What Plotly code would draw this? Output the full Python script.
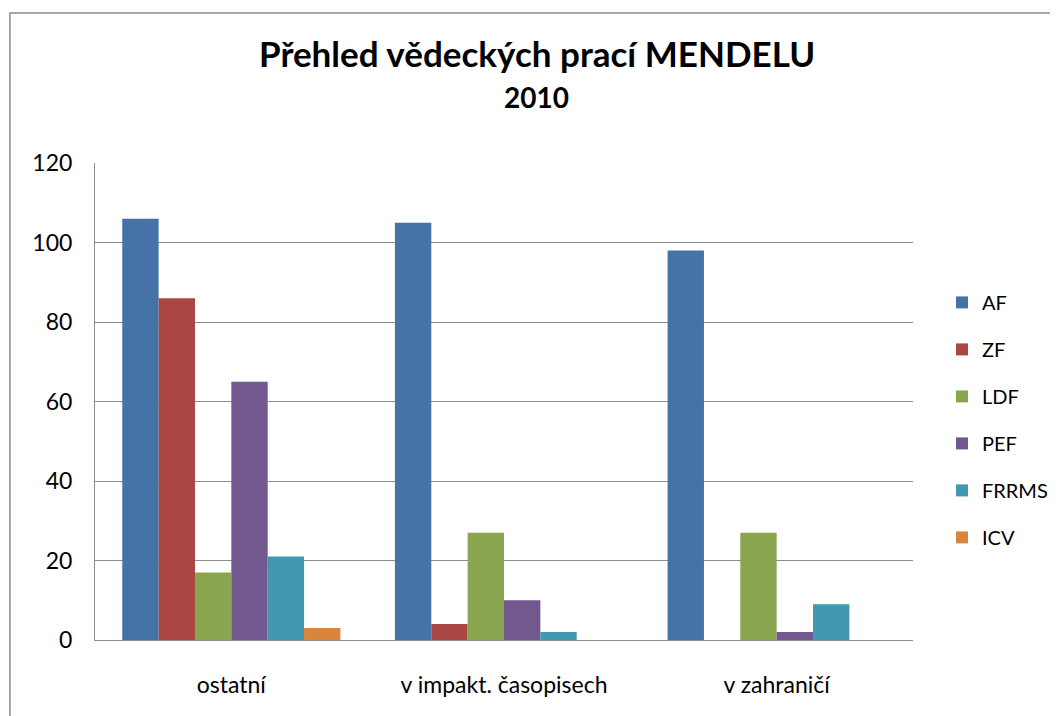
import plotly.graph_objects as go

categories = ["ostatní", "v impakt. časopisech", "v zahraničí"]
series_names = ["AF", "ZF", "LDF", "PEF", "FRRMS", "ICV"]
AF = [106, 105, 98]
ZF = [86, 4, 0]
LDF = [17, 27, 27]
PEF = [65, 10, 2]
FRRMS = [21, 2, 9]
ICV = [3, 0, 0]
y_ticks = [0, 20, 40, 60, 80, 100, 120]

colors = ["#4572A7", "#AA4643", "#89A54E", "#71588F", "#4198AF", "#DB843D"]
values = [AF, ZF, LDF, PEF, FRRMS, ICV]

FONT = "Lato, 'Open Sans', sans-serif"

fig = go.Figure()
for name, vals, col in zip(series_names, values, colors):
    fig.add_trace(go.Bar(x=categories, y=vals, name=name, marker_color=col,
                         marker_line_width=0, legendgroup=name))

fig.update_layout(
    width=1050, height=708,
    margin=dict(l=87, r=145, t=155, b=76),
    paper_bgcolor="white", plot_bgcolor="white",
    barmode="group", bargap=0.2, bargroupgap=0,
    font=dict(family=FONT, color="black"),
    showlegend=True,
    legend=dict(xref="container", yref="paper", x=0.8895, y=0.7486,
                xanchor="left", yanchor="top",
                font=dict(size=20, family=FONT), tracegroupgap=18,
                itemwidth=30, bgcolor="rgba(0,0,0,0)"),
    xaxis=dict(showline=True, linecolor="#8c8c8c", linewidth=1,
               tickfont=dict(size=23, family=FONT), ticks="", ticklabelstandoff=24),
    yaxis=dict(range=[0, 120], tickvals=y_ticks, showgrid=True, gridcolor="#8c8c8c",
               gridwidth=1, showline=True, linecolor="#8c8c8c", linewidth=1,
               zeroline=False, tickfont=dict(size=23, family=FONT), ticks="",
               ticklabelstandoff=17),
    annotations=[
        dict(text="<b>Přehled vědeckých prací MENDELU</b>", xref="paper", yref="paper",
             x=0.54, y=1.2305, xanchor="center", yanchor="middle", showarrow=False,
             font=dict(size=35, family=FONT)),
        dict(text="<b>2010</b>", xref="paper", yref="paper",
             x=0.54, y=1.1384, xanchor="center", yanchor="middle", showarrow=False,
             font=dict(size=28, family=FONT)),
    ],
    shapes=[
        dict(type="rect", xref="paper", yref="paper", x0=-0.104, x1=1.3,
             y0=-0.3, y1=1.3145, line=dict(color="#8c8c8c", width=1.5), layer="below"),
    ],
)

fig.write_html("out.html")
